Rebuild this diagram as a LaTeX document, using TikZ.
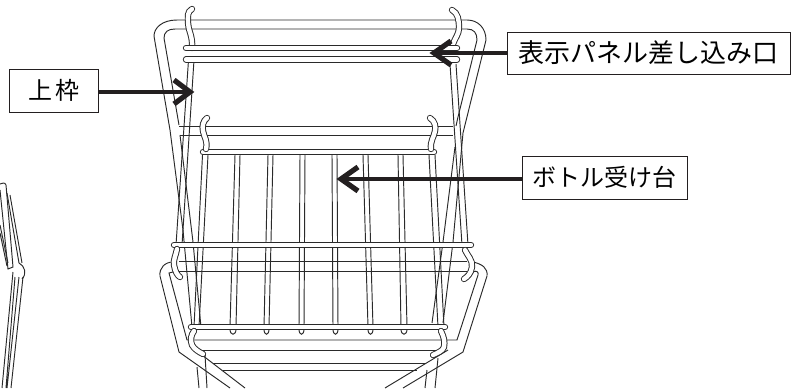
\documentclass[tikz,border=0pt]{standalone}
\usepackage{fontspec}
\newfontfamily\jpf{Noto Sans CJK JP}
\definecolor{ln}{HTML}{2A2A2A}
\definecolor{arr}{HTML}{231F20}
\tikzset{
 ln/.style={draw=ln,line width=.95pt},
 wire/.style={draw=ln,line width=.95pt,double=white,double distance=4.4pt,line cap=round},
 lbl/.style={draw=arr,line width=.9pt,fill=white,inner sep=0pt,font=\jpf},
 shaft/.style={draw=arr,line width=4pt},
 chev/.style={draw=arr,line width=5.2pt,miter limit=3}
}
\begin{document}
\begin{tikzpicture}[x=1pt,y=-1pt]
\useasboundingbox (0,0) rectangle (798,390);
% left fragment
\draw[ln] (0,190)--(8,269)--(13,267)--(6,185) .. controls (5,182) and (2,183) .. (0,184);
\draw[ln] (0,225)--(8,263) (0,233)--(7,266);
\draw[ln] (7,193)--(19,263) (10,195)--(22,263);
\draw[ln] (19,263) .. controls (25,266) and (27,274) .. (22,279);
\draw[ln] (13,272)--(2,388) (15,277)--(6,388) (19,277)--(7,388) (23,277)--(11,388);
% top frame
\draw[ln] (177,20)--(467,20) .. controls (478,20) and (486,28) .. (486,40) -- (463,133) -- (453,242) -- (443,323);
\draw[ln] (177,20) .. controls (162,20) and (154,28) .. (154,36) -- (155,42) -- (170,130) -- (183,230) -- (192,327);
\draw[ln] (175,29)--(467,29) .. controls (474,29) and (477,33) .. (477,40) -- (458,117) -- (456,126);
\draw[ln] (175,29) .. controls (168,29) and (164,32) .. (164,38) -- (179,125);
\draw[ln] (180,135) -- (193,242) -- (201,327);
\draw[ln] (455,147) -- (443,242) -- (432,323);
% second bar
\draw[ln] (179,126)--(453,126) (180,135)--(453,135);
% basket verticals
\foreach \a/\b/\c/\d in {202.5/208/194/199,429/435/438/444,235/240/230/236,268/273/264/269,300/305/299/304,332/337/333/338,363/368/368/373,398/403/401/407}{
 \draw[ln] (\a,155)--(\c,327) (\b,155)--(\d,327);
}
\foreach \c/\d in {230/236,264/269,299/304,333/338,368/373,401/407}{
 \draw[ln] (\c,329) .. controls (\c,336) and (\d,336) .. (\d,329);
}
% hook wires long
\draw[wire] (192,9) .. controls (187,12) and (188,16) .. (188,23) .. controls (188,30) and (193,36) .. (192,48);
\draw[ln] (188.5,60)--(176,245) (194,60)--(182,245);
\draw[wire] (452,10) .. controls (458,13) and (459,20) .. (459,28) .. controls (459,34) and (455,38) .. (453,44);
\draw[ln] (450,64)--(462,245) (456,64)--(468,245);
% lower frame
\draw[ln] (173,262) .. controls (165,262) and (159,268) .. (160,276) -- (179,352) -- (230,388);
\draw[ln] (173,272) -- (169,273) -- (187,340) -- (457,340) -- (478,275) .. controls (479,272) and (476,270) .. (473,272);
\draw[ln] (473,262) .. controls (482,264) and (488,268) .. (487,276) -- (463,352) -- (403,388);
\draw[ln] (195,350)--(440,350);
\draw[ln] (202,355)--(245,388) (448,350)--(385,388);
\draw[ln] (213,363)--(425,363) (223,370)--(417,370);
\draw[ln] (197,367)--(199,388) (205,355)--(207,388) (427,370)--(425,388) (438,358)--(435,388);
% lower frame bar
\draw[ln] (179,261)--(467,261) (179,271)--(467,271);
% bars
\draw[wire] (186,48)--(457,48);
\draw[wire] (186,59.5)--(457,59.5);
\draw[wire] (203,152)--(434,152);
\draw[wire] (174,245)--(471,245);
\draw[wire] (191,327)--(445,327);
% hooks
\draw[wire] (207,118) .. controls (203,121) and (202,126) .. (203,131) .. controls (204,137) and (208,141) .. (206,149);
\draw[wire] (430,118) .. controls (435,121) and (436,127) .. (435,131) .. controls (434,137) and (430,141) .. (431,149);
\draw[wire] (177,249) .. controls (176,255) and (173,260) .. (174,265) .. controls (175,272) and (178,276) .. (180,277);
\draw[wire] (465,250) .. controls (467,255) and (473,260) .. (472,267) .. controls (471,274) and (467,277) .. (464,279);
\draw[wire] (194,331) .. controls (191,335) and (190,340) .. (192,345) .. controls (194,349) and (199,352) .. (203,354);
\draw[wire] (441,331) .. controls (444,337) and (445,342) .. (444,347) .. controls (443,351) and (437,353) .. (433,355);
% labels
\node[lbl,minimum width=89pt,minimum height=43pt,font=\jpf\fontsize{24}{24}\selectfont] (a) at (53.5,90.5) {上\kern3pt 枠};
\node[lbl,minimum width=283pt,minimum height=42pt,font=\jpf\fontsize{26}{26}\selectfont] (b) at (648.5,53) {表示パネル差し込み口};
\node[lbl,minimum width=165pt,minimum height=43pt,font=\jpf\fontsize{24}{24}\selectfont] (c) at (604.5,177.5) {ボトル受け台};
\coordinate (ta) at (190,92);
\coordinate (tb) at (434,53);
\coordinate (tc) at (341,179);
% arrows
\draw[shaft] (a.east |- ta) -- (ta);
\draw[chev] (174,80)--(ta)--(174,104);
\draw[shaft] (b.west) -- (tb);
\draw[chev] (451,41)--(tb)--(451,65);
\draw[shaft] (c.west |- tc) -- (tc);
\draw[chev] (358,167)--(tc)--(358,191);
\end{tikzpicture}
\end{document}
